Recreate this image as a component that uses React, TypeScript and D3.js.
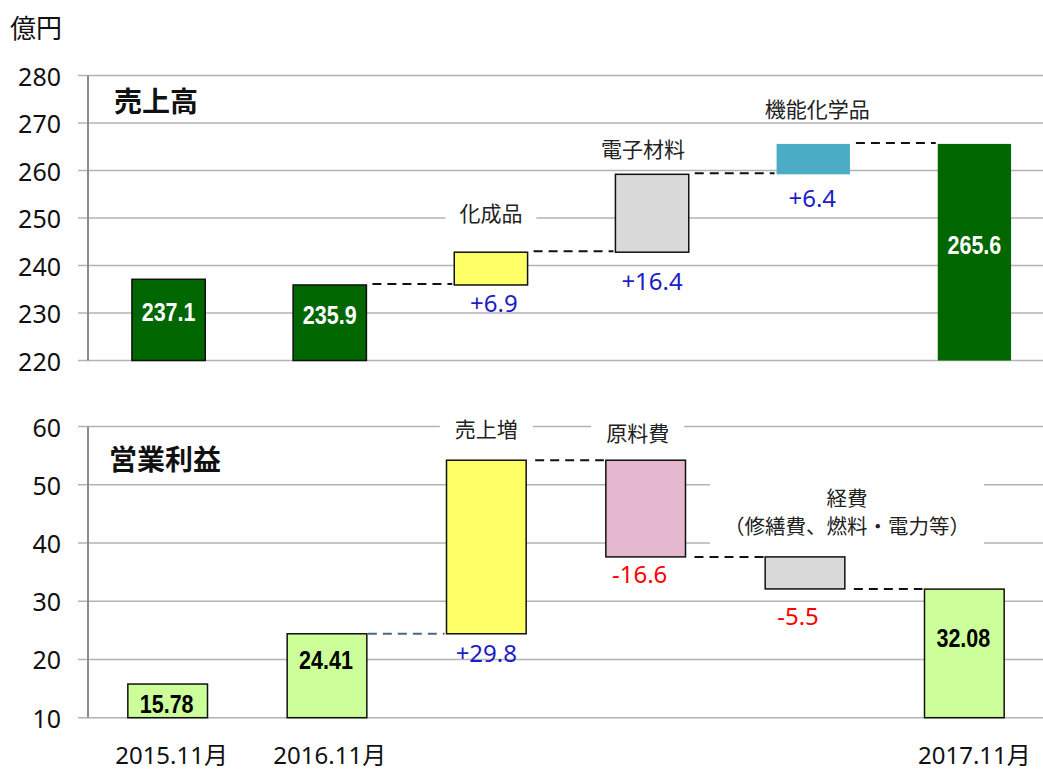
import React from "react";
import * as d3 from "d3";

const W = 1043;
const H = 772;

// ---- Data ----
const salesCategories = ["2015.11月", "2016.11月", "化成品", "電子材料", "機能化学品", "2017.11月"];
const salesTotals = [237.1, 235.9];
const salesDeltas = [6.9, 16.4, 6.4];
const salesEnd = 265.6;
const salesTicks = [220, 230, 240, 250, 260, 270, 280];

const profitCategories = ["2015.11月", "2016.11月", "売上増", "原料費", "経費", "2017.11月"];
const profitTotals = [15.78, 24.41];
const profitDeltas = [29.8, -16.6, -5.5];
const profitEnd = 32.08;
const profitTicks = [10, 20, 30, 40, 50, 60];

const xLabels = ["2015.11月", "2016.11月", "", "", "", "2017.11月"];

// annotation texts
const salesDeltaLabelValues = [232.2, 236.9, 254.4];
const salesCatLabelValues = [251.3, 264.7, 273.2];
const salesCatLabelDx = [0, -9, 4];
const profitDeltaLabelValues = [21.2, 34.7, 27.6];
const profitDeltaDx = [0, -6, -7];
const profitCatLabels = [["売上増"], ["原料費"], ["経費", "（修繕費、燃料・電力等）"]];
const profitCatLabelValues = [[59.7], [59.1], [47.9, 43.1]];
const profitCatLabelDx = [0, -8, 42];

const salesColors = ["#006600", "#006600", "#ffff66", "#d9d9d9", "#4bacc6", "#006600"];
const salesStroke = [true, true, true, true, false, false];
const profitColors = ["#ccff99", "#ccff99", "#ffff66", "#e6b8d0", "#d9d9d9", "#ccff99"];

const NUM_FONT = "'Noto Sans', 'Noto Sans CJK JP', sans-serif";
const JP_FONT = "'Noto Sans CJK JP', 'Noto Sans', sans-serif";
const BAR_FONT = "'Liberation Sans', Arial, sans-serif";
const GRID = "#b3b3b3";
const AXIS = "#8c8c8c";
const BLUE = "#1c1cc8";
const RED = "#ff0000";

type Seg = { cat: string; y0: number; y1: number; total: boolean; delta?: number };

function buildSegs(cats: string[], totals: number[], deltas: number[], end: number): Seg[] {
  const segs: Seg[] = [];
  totals.forEach((t, i) => segs.push({ cat: cats[i], y0: 0, y1: t, total: true }));
  let cur = totals[totals.length - 1];
  deltas.forEach((d, i) => {
    const next = cur + d;
    segs.push({ cat: cats[totals.length + i], y0: cur, y1: next, total: false, delta: d });
    cur = next;
  });
  segs.push({ cat: cats[cats.length - 1], y0: 0, y1: end, total: true });
  return segs;
}

const fmtDelta = (d: number) => (d > 0 ? "+" : "") + d.toFixed(1);

function BarLabel({ x, y, text, fill }: { x: number; y: number; text: string; fill: string }) {
  return (
    <text transform={`translate(${x},${y}) scale(0.86,1)`} textAnchor="middle" dominantBaseline="central"
      fontSize={25} fontWeight="bold" fontFamily={BAR_FONT} fill={fill}>{text}</text>
  );
}

export default function App() {
  const xAxisX = 88;
  // top panel
  const xTop = d3.scaleBand<string>().domain(salesCategories).range([xAxisX, 1055]).padding(0);
  const yTop = d3.scaleLinear().domain([220, 280]).range([360.5, 75.5]);
  const topBW = xTop.step() * 0.455;
  const cTop = (c: string) => (xTop(c) as number) + xTop.step() / 2;
  const topSegs = buildSegs(salesCategories, salesTotals, salesDeltas, salesEnd);

  // bottom panel
  const xBot = d3.scaleBand<string>().domain(profitCategories).range([xAxisX, 1044]).padding(0);
  const yBot = d3.scaleLinear().domain([10, 60]).range([717.7, 426.5]);
  const botBW = xBot.step() * 0.5;
  const cBot = (c: string) => (xBot(c) as number) + xBot.step() / 2;
  const botSegs = buildSegs(profitCategories, profitTotals, profitDeltas, profitEnd);

  const yTopBase = (v: number) => Math.min(yTop(v), yTop(220));
  const yBotBase = (v: number) => Math.min(yBot(v), yBot(10));
  const palt = { fontFeatureSettings: '"palt"' } as React.CSSProperties;

  return (
    <svg width={W} height={H} style={{ position: "absolute", left: 0, top: 0, background: "#fff" }}>
      <rect width={W} height={H} fill="#fff" />
      {/* unit */}
      <text x={10} y={26} fontSize={26} fontFamily={JP_FONT} fill="#111" dominantBaseline="central">億円</text>

      {/* ---------- TOP PANEL ---------- */}
      {salesTicks.map((t) => (
        <g key={"tg" + t}>
          <line x1={78} x2={W} y1={yTop(t)} y2={yTop(t)} stroke={GRID} strokeWidth={1.6} />
          <text x={61} y={yTop(t)} textAnchor="end" dominantBaseline="central" fontSize={25} fontFamily={NUM_FONT} fill="#111">{t}</text>
        </g>
      ))}
      <line x1={xAxisX} x2={xAxisX} y1={yTop(280)} y2={yTop(220)} stroke={AXIS} strokeWidth={2} />

      {/* category annotation labels (with white masks) */}
      {salesDeltas.map((_, i) => {
        const c = salesCategories[2 + i];
        const cx = cTop(c) + salesCatLabelDx[i];
        const cy = yTop(salesCatLabelValues[i]);
        const w = c.length * 21 + 28;
        return (
          <g key={"tcl" + i}>
            <rect x={cx - w / 2} y={cy - 13} width={w} height={26} fill="#fff" />
            <text x={cx} y={cy} textAnchor="middle" dominantBaseline="central" fontSize={21} fontFamily={JP_FONT} fill="#222">{c}</text>
          </g>
        );
      })}

      {/* connectors */}
      {topSegs.map((from, i) => {
        const to = topSegs[i + 1];
        if (i === 0 || !to) return null;
        const v = from.y1;
        return (
          <line key={"tc" + i} x1={cTop(from.cat) + topBW / 2 + 6} x2={cTop(to.cat) - topBW / 2 - 2}
            y1={yTop(v) - 1} y2={yTop(v) - 1} stroke="#111" strokeWidth={2} strokeDasharray="9,6" />
        );
      })}

      {/* bars */}
      {topSegs.map((s, i) => {
        const top = Math.min(yTopBase(s.y0), yTopBase(s.y1));
        const bot = Math.max(yTopBase(s.y0), yTopBase(s.y1));
        const x = cTop(s.cat) - topBW / 2;
        return (
          <rect key={"tb" + i} x={x} y={top} width={topBW} height={bot - top} fill={salesColors[i]}
            stroke={salesStroke[i] ? "#111" : "none"} strokeWidth={1.5} />
        );
      })}
      {/* total labels */}
      {topSegs.filter((s) => s.total).map((s, i) => (
        <BarLabel key={"tl" + i} x={cTop(s.cat)} y={(yTop(s.y1) + yTop(220)) / 2 - 7} text={s.y1.toFixed(1)} fill="#fff" />
      ))}
      {/* delta labels */}
      {topSegs.filter((s) => !s.total).map((s, i) => (
        <text key={"td" + i} x={cTop(s.cat) + (i === 0 ? 3 : i === 2 ? -1 : 0)} y={yTop(salesDeltaLabelValues[i])} textAnchor="middle"
          dominantBaseline="central" fontSize={24} fontFamily={NUM_FONT} fill={(s.delta as number) >= 0 ? BLUE : RED}>
          {fmtDelta(s.delta as number)}
        </text>
      ))}
      <text x={114} y={100} dominantBaseline="central" fontSize={28} fontWeight="bold" fontFamily={JP_FONT} fill="#111">売上高</text>

      {/* ---------- BOTTOM PANEL ---------- */}
      {profitTicks.map((t) => (
        <g key={"bg" + t}>
          <line x1={78} x2={W} y1={yBot(t)} y2={yBot(t)} stroke={GRID} strokeWidth={1.6} />
          <text x={61} y={yBot(t)} textAnchor="end" dominantBaseline="central" fontSize={25} fontFamily={NUM_FONT} fill="#111">{t}</text>
        </g>
      ))}
      <line x1={xAxisX} x2={xAxisX} y1={yBot(60)} y2={yBot(10)} stroke={AXIS} strokeWidth={2} />

      {/* category annotation labels */}
      {profitCatLabels.map((lines, i) => {
        const c = profitCategories[2 + i];
        const cx = cBot(c) + profitCatLabelDx[i];
        const ys = profitCatLabelValues[i].map((v) => yBot(v));
        const maxLen = d3.max(lines, (l) => l.length) as number;
        const w = lines.length > 1 ? maxLen * 21 + 22 : maxLen * 21 + 30;
        const top = (d3.min(ys) as number) - 14;
        const bottom = (d3.max(ys) as number) + 14;
        const extra = lines.length > 1 ? 11 : 0;
        return (
          <g key={"bcl" + i}>
            <rect x={cx - w / 2} y={top - extra} width={w} height={bottom - top + extra * 2} fill="#fff" />
            {lines.map((l, j) => (
              <text key={j} x={cx} y={ys[j]} textAnchor="middle" dominantBaseline="central" fontSize={lines.length > 1 ? 20.5 : 21}
                fontFamily={JP_FONT} fill="#222" style={lines.length > 1 ? undefined : palt}>{l}</text>
            ))}
          </g>
        );
      })}

      {/* connectors */}
      {botSegs.map((from, i) => {
        const to = botSegs[i + 1];
        if (i === 0 || !to) return null;
        const v = from.y1;
        return (
          <line key={"bc" + i} x1={cBot(from.cat) + botBW / 2 + (i === 1 ? 1 : 9)} x2={cBot(to.cat) - botBW / 2 + (i === 3 ? 3 : -2)}
            y1={yBot(v)} y2={yBot(v)} stroke={i === 1 ? "#4a6788" : "#111"} strokeWidth={2} strokeDasharray="9,6" />
        );
      })}

      {botSegs.map((s, i) => {
        const top = Math.min(yBotBase(s.y0), yBotBase(s.y1));
        const bot = Math.max(yBotBase(s.y0), yBotBase(s.y1));
        const x = cBot(s.cat) - botBW / 2;
        return (
          <rect key={"bb" + i} x={x} y={top} width={botBW} height={bot - top} fill={profitColors[i]}
            stroke="#111" strokeWidth={1.5} />
        );
      })}
      {botSegs.filter((s) => s.total).map((s, i) => {
        const topY = yBot(s.y1);
        const mid = (topY + yBot(10)) / 2;
        const y = Math.max(mid - 15, topY + 20);
        return <BarLabel key={"bl" + i} x={cBot(s.cat) - 1} y={y} text={s.y1.toFixed(2)} fill="#000" />;
      })}
      {botSegs.filter((s) => !s.total).map((s, i) => (
        <text key={"bd" + i} x={cBot(s.cat) + profitDeltaDx[i]} y={yBot(profitDeltaLabelValues[i])} textAnchor="middle"
          dominantBaseline="central" fontSize={24} fontFamily={NUM_FONT} fill={(s.delta as number) >= 0 ? BLUE : RED}>
          {fmtDelta(s.delta as number)}
        </text>
      ))}
      <text x={109} y={458} dominantBaseline="central" fontSize={28} fontWeight="bold" fontFamily={JP_FONT} fill="#111">営業利益</text>

      {/* x labels */}
      {xLabels.map((l, i) => l ? (
        <text key={"xl" + i} x={cTop(salesCategories[i]) + (i === 0 ? 3 : 0)} y={754} textAnchor="middle" dominantBaseline="central"
          fontSize={24} fontFamily={NUM_FONT} fill="#111">{l}</text>
      ) : null)}
    </svg>
  );
}
